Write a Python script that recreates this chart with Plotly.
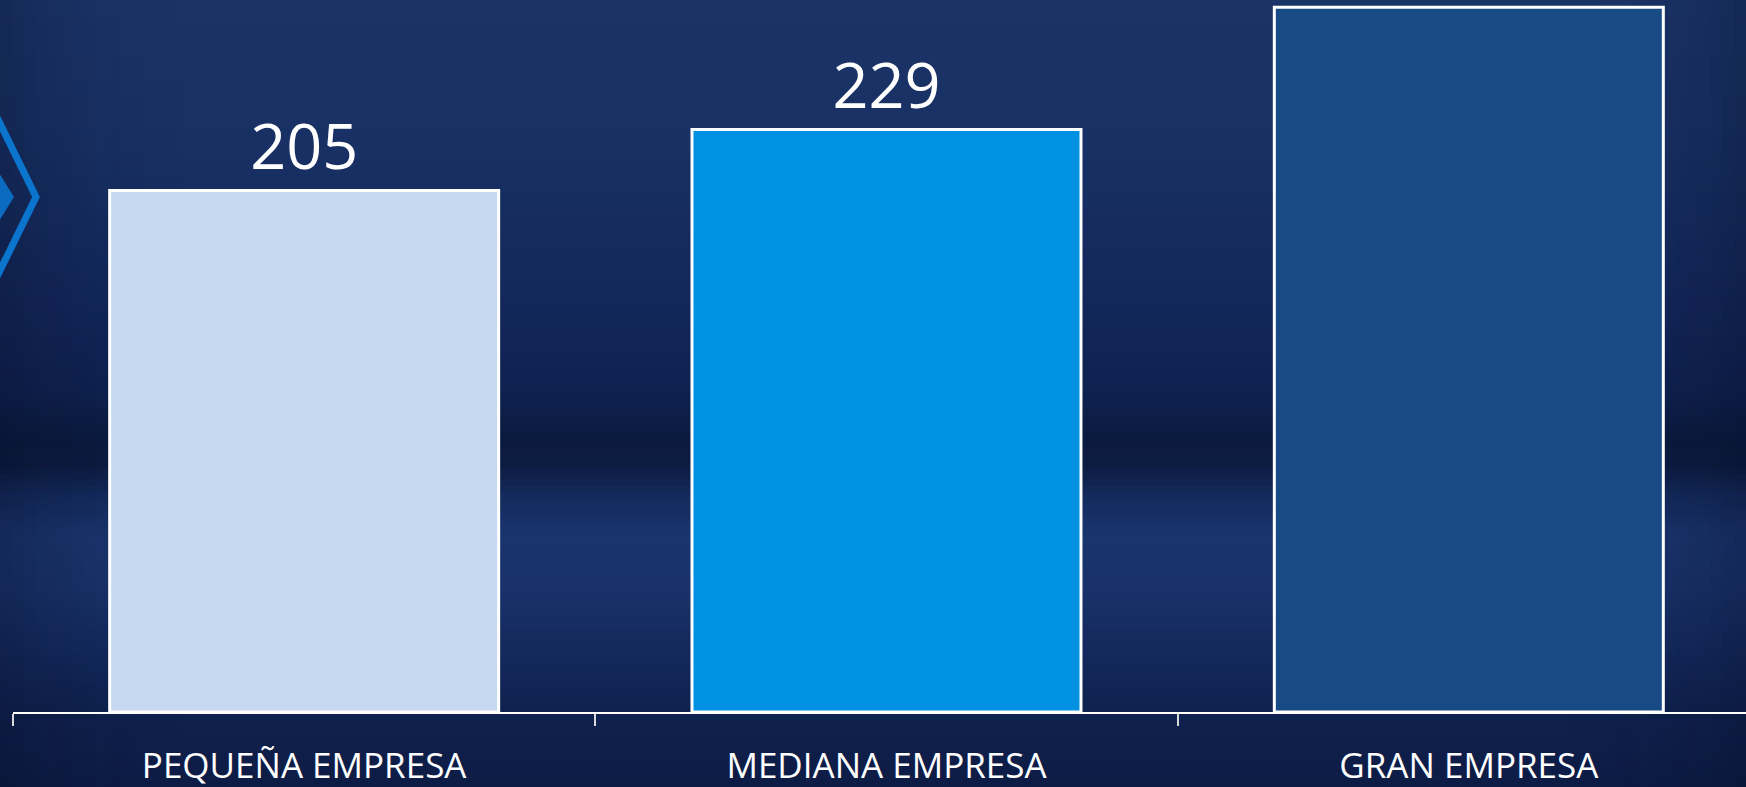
import plotly.graph_objects as go

# ---- data ----
categories = ["PEQUEÑA EMPRESA", "MEDIANA EMPRESA", "GRAN EMPRESA"]
values = [205, 229, 277]
bar_colors = ["#C6D9F1", "#0091E2", "#184A86"]
# the third bar's value label lies above the visible frame in the reference
label_texts = [str(values[0]), str(values[1]), ""]

W, H = 1746, 787
ML, MB, MT, MR = 13, 75, 0, 0
PW, PH = W - ML - MR, H - MB - MT


def px_x(x):
    return (x - ML) / PW


def px_y(y):
    return (H - MB - y) / PH


def hex2rgb(h):
    h = h.lstrip("#")
    return tuple(int(h[i:i + 2], 16) for i in (0, 2, 4))


def lerp(c1, c2, t):
    a, b = hex2rgb(c1), hex2rgb(c2)
    return "rgb(%d,%d,%d)" % tuple(round(a[i] + (b[i] - a[i]) * t) for i in range(3))


# background vertical profile (pixel y, colour)
stops = [
    (0, "#1B3468"), (150, "#183064"), (300, "#13275A"), (390, "#0F2150"),
    (440, "#0B1A3E"), (465, "#0C1B40"), (495, "#142A5C"), (535, "#1A346E"),
    (585, "#19326A"), (650, "#14295D"), (712, "#0F214E"), (787, "#0D1C45"),
]

shapes = []
step = 6
y = 0
while y < H:
    yc = y + step / 2
    for i in range(len(stops) - 1):
        if stops[i][0] <= yc <= stops[i + 1][0]:
            t = (yc - stops[i][0]) / (stops[i + 1][0] - stops[i][0])
            col = lerp(stops[i][1], stops[i + 1][1], t)
            break
    shapes.append(dict(type="rect", xref="paper", yref="paper", layer="below",
                       x0=px_x(0), x1=px_x(W), y0=px_y(y + step + 0.5), y1=px_y(y),
                       fillcolor=col, line=dict(width=0)))
    y += step

# edge vignette
nv = 16
for k in range(nv):
    w = 12
    a = 0.045 * (1 - k / nv)
    for x0 in (k * w, W - (k + 1) * w):
        shapes.append(dict(type="rect", xref="paper", yref="paper", layer="below",
                           x0=px_x(x0), x1=px_x(x0 + w), y0=px_y(H), y1=px_y(0),
                           fillcolor="rgba(4,10,30,%.3f)" % (a * (nv - k) / 3),
                           line=dict(width=0)))


def path(points, close=False):
    s = "M " + " L ".join("%.5f,%.5f" % (px_x(px), px_y(py)) for px, py in points)
    return s + (" Z" if close else "")


# decorative chevrons on the left
shapes.append(dict(type="path", xref="paper", yref="paper", layer="below",
                   path=path([(-30, 126), (14, 197), (-30, 268)], close=True),
                   fillcolor="#0A6BC0", line=dict(width=0)))
shapes.append(dict(type="path", xref="paper", yref="paper", layer="below",
                   path=path([(-10, 103), (36, 197), (-10, 291)]),
                   line=dict(color="#0B74CC", width=7)))

fig = go.Figure(go.Bar(
    x=categories, y=values,
    marker=dict(color=bar_colors, line=dict(color="white", width=3)),
    text=label_texts, textposition="outside",
    textfont=dict(family="Open Sans", size=63, color="white"),
    cliponaxis=False, width=0.668,
))

fig.update_layout(
    width=W, height=H,
    margin=dict(l=ML, r=MR, t=MT, b=MB, pad=0, autoexpand=False),
    paper_bgcolor="#10224F", plot_bgcolor="rgba(0,0,0,0)",
    shapes=shapes, showlegend=False,
    xaxis=dict(range=[-0.5, 2.476], showline=True, linecolor="white", linewidth=2,
               ticks="outside", tickson="boundaries", ticklen=12, tickwidth=1.5,
               tickcolor="#D9D9D9", showgrid=False, zeroline=False, automargin=False,
               tickfont=dict(family="Open Sans", size=35, color="white"),
               ticklabelstandoff=22),
    yaxis=dict(range=[0, PH / 2.544], visible=False, showgrid=False, zeroline=False,
               automargin=False),
)

fig.write_html(
    "out.html",
    config={"displayModeBar": False},
    post_script="document.body.style.margin='0';document.body.style.overflow='hidden';"
                "document.body.style.background='#10224F';",
)
